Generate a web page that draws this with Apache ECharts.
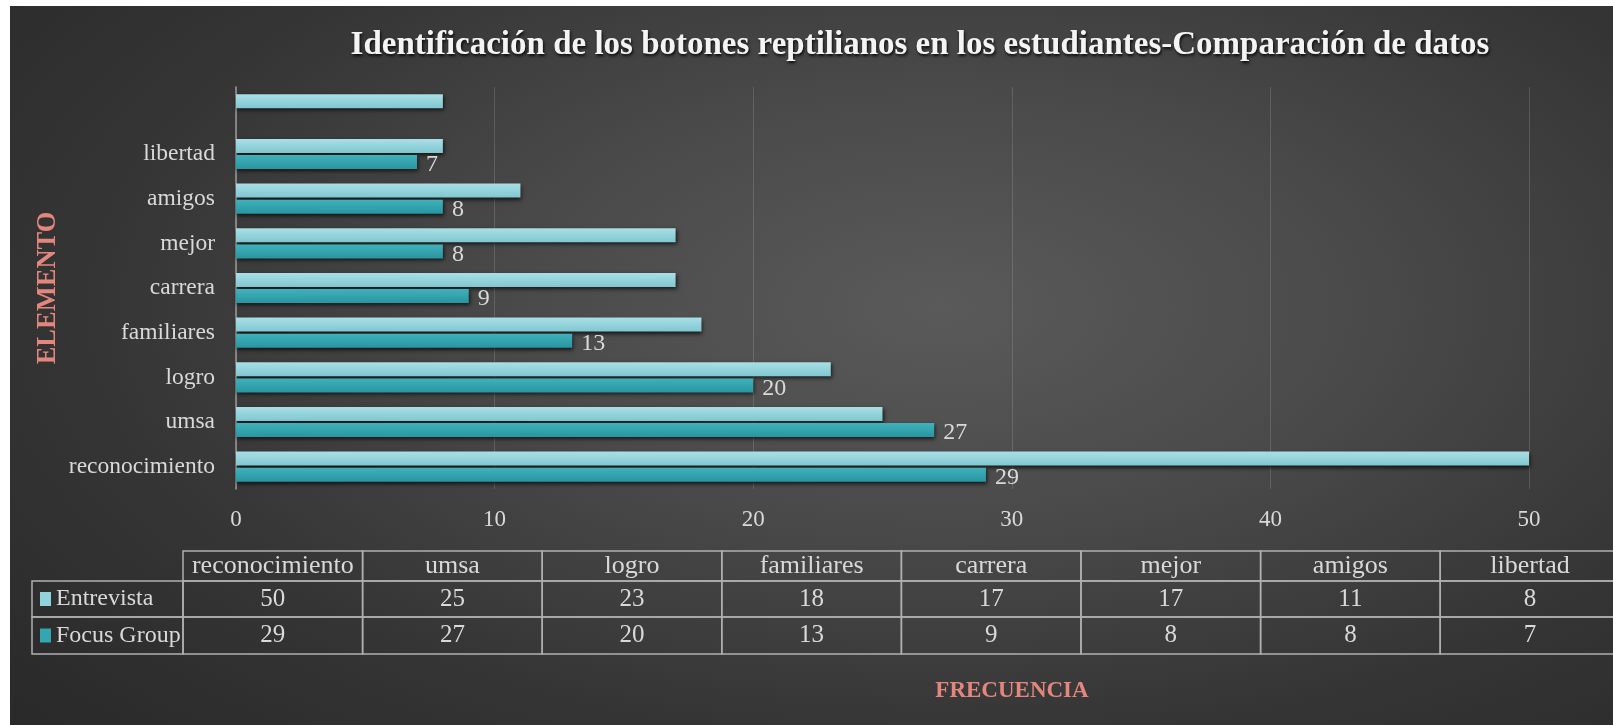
<!DOCTYPE html>
<html>
<head>
<meta charset="utf-8">
<script src="https://cdn.jsdelivr.net/npm/echarts@6/dist/echarts.min.js"></script>
<style>
  html, body { margin: 0; padding: 0; background: #ffffff; }
  #bg { position: absolute; left: 10px; top: 6px; width: 1603px; height: 719px;
        background: radial-gradient(ellipse 75% 85% at 58% 42%, #5a5a5a 0%, #4a4a4a 35%, #353535 70%, #2a2a2a 100%); }
  #chart { position: absolute; left: 0; top: 0; width: 1613px; height: 725px; }
</style>
</head>
<body>
<div id="bg"></div>
<div id="chart"></div>
<script>
// ---- data ----
const categories = ['reconocimiento', 'umsa', 'logro', 'familiares', 'carrera', 'mejor', 'amigos', 'libertad', ''];
const entrevista = [50, 25, 23, 18, 17, 17, 11, 8, 8];
const focusGroup = [29, 27, 20, 13, 9, 8, 8, 7, null];
const seriesNames = ['Entrevista', 'Focus Group'];
const xMin = 0, xMax = 50, xStep = 10;
const tableCount = 8; // the data table lists the first 8 categories
const titleText = 'Identificación de los botones reptilianos en los estudiantes-Comparación de datos';
const yName = 'ELEMENTO';
const xName = 'FRECUENCIA';

// ---- style ----
const FONT = '"Liberation Serif", "Times New Roman", serif';
const TXT = '#D9D9D9';
const AXISNAME = '#E3877E';
const colEntre = '#8FD3DC';
const colFocus = '#33A6B0';
const gradEntre = new echarts.graphic.LinearGradient(0, 0, 0, 1, [{offset: 0, color: '#A9DFE6'}, {offset: 1, color: '#80C7D0'}]);
const gradFocus = new echarts.graphic.LinearGradient(0, 0, 0, 1, [{offset: 0, color: '#40B1BB'}, {offset: 1, color: '#2896A1'}]);

// table layout (pixels)
const chartW = 1613;
const tableLeft = 32;
const colPx = 179.6;
const labelColPx = 151;
const labelColUnits = labelColPx / colPx;   // width of the legend column in column units
const tableAxisMax = (chartW - tableLeft) / colPx - labelColUnits; // last column runs past the canvas edge
const rowEdges = [0, 30, 66, 103];

// table cells built from the data arrays
const tableCells = [];
for (let i = 0; i < tableCount; i++) {
  tableCells.push({value: [i, 0], text: categories[i], kind: 'head'});
  tableCells.push({value: [i, 1], text: String(entrevista[i]), kind: 'cell'});
  tableCells.push({value: [i, 2], text: String(focusGroup[i]), kind: 'cell'});
}
tableCells.push({value: [-1, 1], text: seriesNames[0], kind: 'legend', color: colEntre});
tableCells.push({value: [-1, 2], text: seriesNames[1], kind: 'legend', color: colFocus});

function renderCell(params, api) {
  const cell = tableCells[params.dataIndex];
  const col = api.value(0), row = api.value(1);
  const x0v = col < 0 ? -labelColUnits : col;
  const x1v = col < 0 ? 0 : col + 1;
  const p0 = api.coord([x0v, rowEdges[row]]);
  const p1 = api.coord([x1v, rowEdges[row + 1]]);
  const x = p0[0], y = p0[1], w = p1[0] - p0[0], h = p1[1] - p0[1];
  const children = [{
    type: 'rect',
    shape: {x: x, y: y, width: w, height: h},
    style: {fill: 'none', stroke: '#B0B0B0', lineWidth: 1.5}
  }];
  if (cell.kind === 'legend') {
    children.push({type: 'rect', shape: {x: x + 8, y: y + h / 2 - 7, width: 11, height: 14}, style: {fill: cell.color}});
    children.push({type: 'text', style: {text: cell.text, x: x + 24, y: y + h / 2, align: 'left', verticalAlign: 'middle',
      fill: TXT, fontSize: 24, fontFamily: FONT}});
  } else {
    children.push({type: 'text', style: {text: cell.text, x: x + w / 2, y: y + h / 2, align: 'center', verticalAlign: 'middle',
      fill: TXT, fontSize: cell.kind === 'head' ? 26 : 25, fontFamily: FONT}});
  }
  return {type: 'group', children: children};
}

const chart = echarts.init(document.getElementById('chart'), null, {renderer: 'canvas'});
chart.setOption({
  backgroundColor: 'transparent',
  animation: false,
  title: [{
    text: titleText,
    left: 915, top: 24, textAlign: 'center',
    textStyle: {color: '#F4F4F4', fontSize: 33, fontWeight: 'bold', fontFamily: FONT,
      textShadowColor: 'rgba(0,0,0,0.85)', textShadowBlur: 3, textShadowOffsetX: 1, textShadowOffsetY: 2}
  }, {
    text: xName,
    left: 1007, top: 675, textAlign: 'center',
    textStyle: {color: AXISNAME, fontSize: 23, fontWeight: 'bold', fontFamily: FONT}
  }],
  graphic: [{
    type: 'text', x: 48, y: 288, rotation: Math.PI / 2,
    style: {text: yName, align: 'center', verticalAlign: 'middle', fill: AXISNAME, fontSize: 26.5, fontWeight: 'bold', fontFamily: FONT}
  }],
  grid: [
    {left: 236, right: 84, top: 87, height: 402, containLabel: false},
    {left: tableLeft, right: 0, top: 551, height: rowEdges[3], containLabel: false}
  ],
  xAxis: [{
    type: 'value', gridIndex: 0, min: xMin, max: xMax, interval: xStep,
    axisLine: {show: false}, axisTick: {show: false},
    splitLine: {lineStyle: {color: 'rgba(217,217,217,0.18)', width: 1}},
    axisLabel: {color: TXT, fontSize: 23, fontFamily: FONT, margin: 19}
  }, {
    type: 'value', gridIndex: 1, min: -labelColUnits, max: tableAxisMax, show: false
  }],
  yAxis: [{
    type: 'category', gridIndex: 0, data: categories,
    axisLine: {show: true, lineStyle: {color: '#9A9A9A', width: 1.5}},
    axisTick: {show: false},
    axisLabel: {color: TXT, fontSize: 23.5, fontFamily: FONT, margin: 21}
  }, {
    type: 'value', gridIndex: 1, min: 0, max: rowEdges[3], inverse: true, show: false
  }],
  series: [{
    name: seriesNames[0], type: 'bar', xAxisIndex: 0, yAxisIndex: 0, data: entrevista,
    barWidth: 14, barGap: '15%',
    itemStyle: {color: gradEntre, shadowColor: 'rgba(0,0,0,0.7)', shadowBlur: 4, shadowOffsetY: 2, shadowOffsetX: 1}
  }, {
    name: seriesNames[1], type: 'bar', xAxisIndex: 0, yAxisIndex: 0, data: focusGroup,
    barWidth: 14, barGap: '15%',
    itemStyle: {color: gradFocus, shadowColor: 'rgba(0,0,0,0.7)', shadowBlur: 4, shadowOffsetY: 2, shadowOffsetX: 1},
    label: {show: true, position: 'right', distance: 9, color: TXT, fontSize: 24, fontFamily: FONT, offset: [0, 3]}
  }, {
    type: 'custom', xAxisIndex: 1, yAxisIndex: 1, data: tableCells, renderItem: renderCell, silent: true, clip: false
  }]
});
</script>
</body>
</html>
